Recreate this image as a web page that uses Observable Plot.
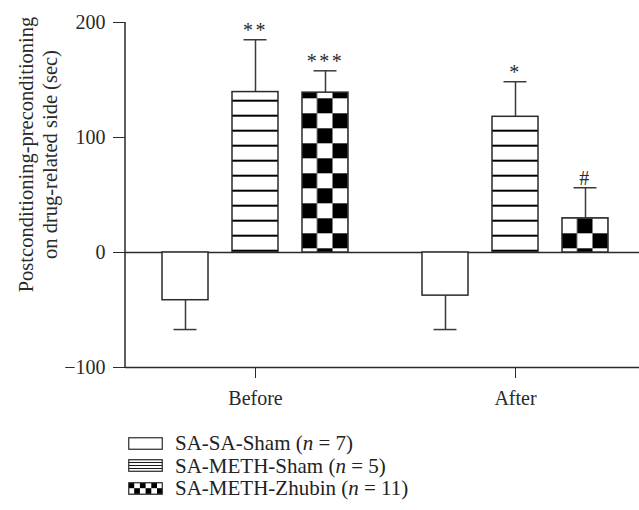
<!DOCTYPE html>
<html><head><meta charset="utf-8">
<script src="https://cdn.jsdelivr.net/npm/d3@7"></script>
<script src="https://cdn.jsdelivr.net/npm/@observablehq/plot@0.6"></script>
<style>
body{margin:0;background:#fff;font-family:"Liberation Serif",serif;color:#222;}
#chart{width:639px;overflow:hidden;}
#chart svg{max-width:none;font-family:"Liberation Serif",serif;}
.stars{letter-spacing:2.5px;}
#legend{margin-top:12px;padding-left:128px;font-size:21px;line-height:22.5px;color:#222;}
.row{display:flex;align-items:center;height:22.5px;}
.row svg{margin-right:12px;flex:none;}
</style></head><body>
<div id="chart"></div>
<div id="legend"></div>
<script>
const timepoints = ["Before", "After"];
const groups = ["SA-SA-Sham", "SA-METH-Sham", "SA-METH-Zhubin"];
const groupN = [7, 5, 11];
const meansBefore = [-41.5, 139.5, 139];
const sdBefore = [25.5, 45.5, 19];
const meansAfter = [-37.5, 118, 29.7];
const sdAfter = [29.5, 30.5, 26.6];
const marksBefore = ["", "**", "***"];
const marksAfter = ["", "*", "#"];
const yTicks = [-100, 0, 100, 200];
const yLabelLines = ["Postconditioning-preconditioning", "on drug-related side (sec)"];
const fills = ["white", "url(#stripes)", "url(#checks)"];

const rows = [];
timepoints.forEach((t, ti) => {
  const means = ti === 0 ? meansBefore : meansAfter;
  const sds = ti === 0 ? sdBefore : sdAfter;
  const labs = ti === 0 ? marksBefore : marksAfter;
  groups.forEach((g, gi) => {
    const m = means[gi], s = sds[gi];
    rows.push({time: t, group: g, mean: m, end: m + Math.sign(m) * s, label: labs[gi]});
  });
});

const chart = Plot.plot({
  width: 645, height: 420,
  marginLeft: 125, marginRight: 0, marginTop: 22, marginBottom: 53,
  style: {fontFamily: "Liberation Serif, serif", fontSize: "20px", color: "#2a2a2a", background: "white"},
  fx: {domain: timepoints, padding: 0, label: null, tickSize: 11, tickPadding: 12},
  x: {domain: groups, axis: null, paddingInner: 0.338, paddingOuter: 0.5},
  y: {domain: [-100, 200], ticks: yTicks, tickSize: 12, tickPadding: 8, label: null},
  color: {type: "ordinal", domain: groups, range: fills},
  marks: [
    Plot.ruleY([0], {stroke: "#2a2a2a", strokeWidth: 1.5}),
    Plot.ruleY([-100], {stroke: "#2a2a2a", strokeWidth: 1.5}),
    Plot.ruleX(rows, {fx: "time", x: "group", y1: "mean", y2: "end", stroke: "#3a3a3a", strokeWidth: 1.5}),
    Plot.tickY(rows, {fx: "time", x: "group", y: "end", insetLeft: 11.5, insetRight: 11.5, stroke: "#3a3a3a", strokeWidth: 1.5}),
    Plot.barY(rows, {fx: "time", x: "group", y1: 0, y2: "mean", fill: "group", stroke: "#2a2a2a", strokeWidth: 1.5}),
    Plot.text(rows.filter(d => d.label), {fx: "time", x: "group", y: "end", text: "label", dy: -9, fontSize: 20, fill: "#2a2a2a", className: "stars"})
  ]
});

const svg = d3.select(chart);
const defs = svg.insert("defs", ":first-child");
const st = defs.append("pattern").attr("id", "stripes").attr("patternUnits", "userSpaceOnUse")
  .attr("width", 10).attr("height", 15).attr("y", 9.7);
st.append("rect").attr("width", 10).attr("height", 15).attr("fill", "white");
st.append("rect").attr("width", 10).attr("height", 2).attr("fill", "black");
const ck = defs.append("pattern").attr("id", "checks").attr("patternUnits", "userSpaceOnUse")
  .attr("width", 31).attr("height", 30).attr("x", 177.5).attr("y", 23.3);
ck.append("rect").attr("width", 31).attr("height", 30).attr("fill", "white");
ck.append("rect").attr("width", 15.5).attr("height", 15).attr("fill", "black");
ck.append("rect").attr("x", 15.5).attr("y", 15).attr("width", 15.5).attr("height", 15).attr("fill", "black");

const y = chart.scale("y");
svg.append("line").attr("x1", 125).attr("x2", 125)
  .attr("y1", y.apply(200)).attr("y2", y.apply(-100))
  .attr("stroke", "#2a2a2a").attr("stroke-width", 1.5);

const cy = (y.apply(200) + y.apply(-100)) / 2 - 40;
yLabelLines.forEach((line, i) => {
  svg.append("text").attr("transform", `translate(${33 + i * 24},${cy}) rotate(-90)`)
    .attr("text-anchor", "middle").attr("fill", "#2a2a2a")
    .style("font-size", "20.5px").text(line);
});

document.getElementById("chart").appendChild(chart);

// legend
const legend = d3.select("#legend");
groups.forEach((g, i) => {
  const row = legend.append("div").attr("class", "row");
  const s = row.append("svg").attr("width", 35).attr("height", 13);
  const pd = s.append("defs");
  if (i === 1) {
    const p = pd.append("pattern").attr("id", "lstripes").attr("patternUnits", "userSpaceOnUse").attr("width", 4).attr("height", 3);
    p.append("rect").attr("width", 4).attr("height", 3).attr("fill", "white");
    p.append("rect").attr("width", 4).attr("height", 0.9).attr("fill", "black");
  }
  if (i === 2) {
    const p = pd.append("pattern").attr("id", "lchecks").attr("patternUnits", "userSpaceOnUse").attr("width", 11.4).attr("height", 11.4).attr("x", 0.5).attr("y", 0.5);
    p.append("rect").attr("width", 11.4).attr("height", 11.4).attr("fill", "white");
    p.append("rect").attr("width", 5.7).attr("height", 5.7).attr("fill", "black");
    p.append("rect").attr("x", 5.7).attr("y", 5.7).attr("width", 5.7).attr("height", 5.7).attr("fill", "black");
  }
  s.append("rect").attr("x", 0.75).attr("y", 0.75).attr("width", 33.5).attr("height", 11.5)
    .attr("fill", i === 0 ? "white" : i === 1 ? "url(#lstripes)" : "url(#lchecks)")
    .attr("stroke", "#2a2a2a").attr("stroke-width", 1.2);
  const t = row.append("span");
  t.append("span").text(`${g} (`);
  t.append("i").text("n");
  t.append("span").text(` = ${groupN[i]})`);
});
</script>
</body></html>
